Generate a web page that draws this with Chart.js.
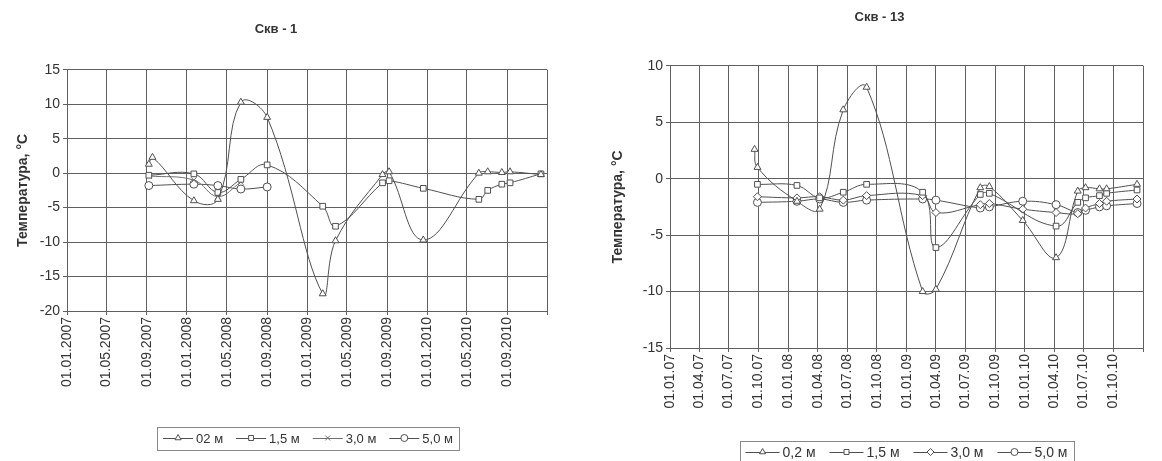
<!DOCTYPE html>
<html>
<head>
<meta charset="utf-8">
<script src="https://cdn.jsdelivr.net/npm/chart.js@4.4.1/dist/chart.umd.min.js"></script>
<style>
  html, body { margin: 0; padding: 0; background: #fff; overflow: hidden; }
  #wrap { position: relative; width: 1162px; height: 461px; }
  .box { position: absolute; top: 0; height: 461px; }
  #b1 { left: 0; width: 566px; }
  #b2 { left: 606px; width: 556px; }
</style>
</head>
<body>
<div id="wrap">
  <div class="box" id="b1"><canvas id="c1" width="566" height="461"></canvas></div>
  <div class="box" id="b2"><canvas id="c2" width="556" height="461"></canvas></div>
</div>
<script>
// ── Скв - 1 : measurement dates and temperatures ──
const dates1 = ['07.09.2007', '18.09.2007', '22.01.2008', '04.04.2008', '13.06.2008', '01.09.2008',
                '17.02.2009', '28.03.2009', '18.08.2009', '07.09.2009', '20.12.2009', '07.06.2010',
                '04.07.2010', '16.08.2010', '10.09.2010', '13.12.2010'];
const w1_02 = [1.3, 2.3, -4.0, -3.8, 10.3, 8.1, -17.5, -9.8, -0.2, 0.2, -9.7, 0.0, 0.2, 0.1, 0.2, -0.2];
const w1_15 = [-0.3, null, -0.1, -2.8, -0.9, 1.2, -4.8, -7.7, -1.4, -1.1, -2.2, -3.8, -2.5, -1.6, -1.4, -0.1];
const w1_30 = [-0.4, null, -1.0, -3.4, -1.3, null, null, null, null, null, null, null, null, null, null, null];
const w1_50 = [-1.8, null, -1.6, -1.8, -2.3, -2.0, null, null, null, null, null, null, null, null, null, null];
const ticks1 = ['01.01.2007', '01.05.2007', '01.09.2007', '01.01.2008', '01.05.2008', '01.09.2008',
                '01.01.2009', '01.05.2009', '01.09.2009', '01.01.2010', '01.05.2010', '01.09.2010'];
const end1 = '01.01.2011';

// ── Скв - 13 ──
const dates13 = ['19.09.2007', '28.09.2007', '28.01.2008', '07.04.2008', '19.06.2008', '30.08.2008',
                 '19.02.2009', '01.04.2009', '16.08.2009', '13.09.2009', '25.12.2009', '07.04.2010',
                 '13.06.2010', '07.07.2010', '19.08.2010', '10.09.2010', '13.12.2010'];
const w13_02 = [2.6, 1.0, -2.0, -2.7, 6.1, 8.1, -10.0, -9.8, -0.8, -0.7, -3.7, -7.0, -1.1, -0.8, -0.9, -0.9, -0.5];
const w13_15 = [null, -0.5, -0.6, -1.7, -1.2, -0.5, -1.2, -6.1, -1.4, -1.3, null, -4.2, -2.1, -1.7, -1.5, -1.3, -1.0];
const w13_30 = [null, -1.6, -1.7, -1.6, -1.9, -1.5, -1.5, -3.0, -2.3, -2.2, -2.7, -3.0, -3.1, -2.6, -2.2, -2.0, -1.8];
const w13_50 = [null, -2.1, -2.0, -1.8, -2.1, -1.9, -1.8, -1.9, -2.6, -2.5, -2.0, -2.3, -3.0, -2.8, -2.5, -2.4, -2.2];
const ticks13 = ['01.01.07', '01.04.07', '01.07.07', '01.10.07', '01.01.08', '01.04.08', '01.07.08', '01.10.08',
                 '01.01.09', '01.04.09', '01.07.09', '01.10.09', '01.01.10', '01.04.10', '01.07.10', '01.10.10'];
const end13 = '01.01.11';

const FONT = "'Liberation Sans', Arial, sans-serif";
const INK = '#333';
const GRID = '#606060';

// days since 01.01.2007 (accepts dd.mm.yyyy and dd.mm.yy)
function dayNum(s) {
    let [d, m, y] = s.split('.').map(Number);
    if (y < 100) y += 2000;
    return (Date.UTC(y, m - 1, d) - Date.UTC(2007, 0, 1)) / 86400000;
}

function series(label, dates, values, style, color) {
    return {
        label,
        data: dates.map((d, i) => ({ x: dayNum(d), y: values[i] })).filter(p => p.y !== null),
        pointStyle: style,
        borderColor: color,
        borderWidth: 1,
        pointRadius: 4,
        pointBorderWidth: 1,
        pointBackgroundColor: '#fff',
        pointBorderColor: color,
        tension: 0.4,
        fill: false
    };
}

// ── Legend inside a frame, line drawn through each marker (Excel look) ──
const boxLegend = {
    id: 'boxLegend',
    afterDraw(chart, args, o) {
        const ctx = chart.ctx;
        ctx.save();
        ctx.font = `${o.size}px ${FONT}`;
        const items = chart.data.datasets.map(ds => ({ ds, tw: ctx.measureText(ds.label).width }));
        const total = items.reduce((s, it) => s + o.lineLen + o.gap + it.tw, 0) + o.spacing * (items.length - 1);
        let x = o.cx - total / 2;
        ctx.strokeStyle = '#888';
        ctx.lineWidth = 1;
        ctx.strokeRect(Math.round(x - o.pad) + 0.5, Math.round(o.cy - o.h / 2) + 0.5,
                       Math.round(total + 2 * o.pad), Math.round(o.h));
        ctx.textBaseline = 'middle';
        items.forEach(it => {
            const ds = it.ds;
            ctx.strokeStyle = ds.borderColor;
            ctx.beginPath();
            ctx.moveTo(x, o.cy + 0.5);
            ctx.lineTo(x + o.lineLen, o.cy + 0.5);
            ctx.stroke();
            ctx.fillStyle = '#fff';
            Chart.helpers.drawPoint(ctx, { pointStyle: ds.pointStyle, radius: 3.5, borderWidth: 1, rotation: 0 },
                                    x + o.lineLen / 2, o.cy);
            ctx.fillStyle = INK;
            ctx.fillText(ds.label, x + o.lineLen + o.gap, o.cy + 1);
            x += o.lineLen + o.gap + it.tw + o.spacing;
        });
        ctx.restore();
    }
};

function makeChart(id, cfg) {
    const tickVals = cfg.ticks.map(dayNum).concat([dayNum(cfg.end)]);
    const labelOf = {};
    cfg.ticks.forEach(t => { labelOf[dayNum(t)] = t; });

    return new Chart(document.getElementById(id), {
        type: 'line',
        data: { datasets: cfg.datasets },
        options: {
            responsive: false,
            animation: false,
            layout: { padding: { left: 0, right: cfg.padRight, top: 0, bottom: cfg.padBottom } },
            plugins: {
                legend: { display: false },
                tooltip: { enabled: false },
                title: {
                    display: true,
                    text: cfg.title,
                    color: INK,
                    font: { family: FONT, size: 13, weight: 'bold' },
                    padding: cfg.titlePad
                },
                boxLegend: cfg.legend
            },
            scales: {
                x: {
                    type: 'linear',
                    min: 0,
                    max: dayNum(cfg.end),
                    afterBuildTicks: s => { s.ticks = tickVals.map(v => ({ value: v })); },
                    afterFit: s => { s.height = cfg.xHeight; },
                    grid: { color: GRID, lineWidth: 1, tickLength: 4, tickColor: GRID },
                    border: { color: GRID },
                    ticks: {
                        autoSkip: false,
                        minRotation: 90,
                        maxRotation: 90,
                        padding: 2,
                        color: INK,
                        font: { family: FONT, size: cfg.xFont },
                        callback: v => labelOf[v] || ''
                    }
                },
                y: {
                    min: cfg.yMin,
                    max: cfg.yMax,
                    afterFit: s => { s.width = cfg.yWidth; },
                    grid: { color: GRID, lineWidth: 1, tickLength: 4, tickColor: GRID },
                    border: { color: GRID },
                    ticks: { stepSize: 5, padding: 3, color: INK, font: { family: FONT, size: 14 } },
                    title: {
                        display: true,
                        text: 'Температура, °С',
                        color: INK,
                        font: { family: FONT, size: 14, weight: 'bold' },
                        padding: { top: cfg.yTitlePad, bottom: 0 }
                    }
                }
            }
        },
        plugins: [boxLegend]
    });
}

makeChart('c1', {
    title: 'Скв - 1',
    datasets: [
        series('02 м', dates1, w1_02, 'triangle', '#505050'),
        series('1,5 м', dates1, w1_15, 'rect', '#505050'),
        series('3,0 м', dates1, w1_30, 'crossRot', '#707070'),
        series('5,0 м', dates1, w1_50, 'circle', '#505050')
    ],
    ticks: ticks1, end: end1,
    yMin: -20, yMax: 15,
    padRight: 14, padBottom: 40, xHeight: 110, yWidth: 67, yTitlePad: 14.6,
    xFont: 14,
    titlePad: { top: 21.6, bottom: 32.6 },
    legend: { cx: 308, cy: 438, h: 23, pad: 6, lineLen: 30, gap: 3, spacing: 13, size: 13 }
});

makeChart('c2', {
    title: 'Скв - 13',
    datasets: [
        series('0,2 м', dates13, w13_02, 'triangle', '#505050'),
        series('1,5 м', dates13, w13_15, 'rect', '#505050'),
        series('3,0 м', dates13, w13_30, 'rectRot', '#505050'),
        series('5,0 м', dates13, w13_50, 'circle', '#505050')
    ],
    ticks: ticks13, end: end13,
    yMin: -15, yMax: 10,
    padRight: 9, padBottom: 30, xHeight: 83, yWidth: 64, yTitlePad: 3.6,
    xFont: 14,
    titlePad: { top: 9.6, bottom: 40.6 },
    legend: { cx: 300.5, cy: 452, h: 23, pad: 6, lineLen: 34, gap: 3, spacing: 14, size: 14 }
});
</script>
</body>
</html>
